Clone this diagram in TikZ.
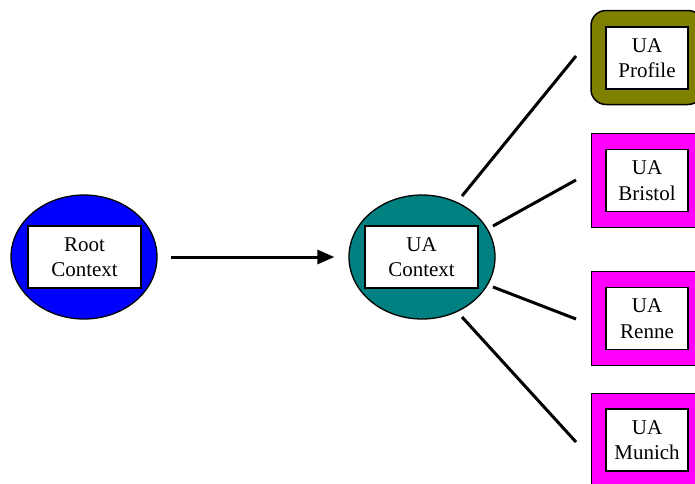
\documentclass[tikz,border=0pt]{standalone}
\usepackage{fontspec}
\setmainfont{Liberation Serif}
\usetikzlibrary{shapes.geometric}
\usetikzlibrary{arrows.meta}

\definecolor{ctxblue}{RGB}{0,0,255}
\definecolor{ctxteal}{RGB}{0,128,128}
\definecolor{uaolive}{RGB}{128,128,0}
\definecolor{uapink}{RGB}{255,0,255}

\tikzset{
  ctx/.style={ellipse, draw, line width=1.3pt, minimum width=146pt, minimum height=124pt},
  label/.style={rectangle, draw, fill=white, line width=1.5pt, inner sep=0pt, align=center,
    font=\fontsize{21}{25.5}\selectfont},
  ctxlabel/.style={label, minimum width=113pt, minimum height=62pt},
  ualabel/.style={label, minimum width=82pt, minimum height=62pt},
  uabox/.style={rectangle, draw, minimum width=112pt, minimum height=94pt},
  spoke/.style={line width=3pt},
}

\begin{document}
\begin{tikzpicture}[x=1pt, y=-1pt]
    \useasboundingbox (0,0) rectangle (695,483);
    \clip (0,0) rectangle (695,483);
    % contexts
    \node[ctx, fill=ctxblue] (root) at (84,257) {};
    \node[ctxlabel] at (84.5,257) {Root\\Context};
    \node[ctx, fill=ctxteal] (uactx) at (422,257) {};
    \node[ctxlabel] at (421.5,257) {UA\\Context};
    \draw[line width=3pt, -{Triangle[length=17pt, width=14pt]}, shorten <=13pt, shorten >=14pt] (root) -- (uactx);
    % user agents
    \node[uabox, fill=uaolive, rounded corners=15pt, line width=1.5pt] (profile) at (647,57.5) {};
    \node[ualabel] at (647,58) {UA\\Profile};
    \node[uabox, fill=uapink, line width=0.8pt] (bristol) at (647,180) {};
    \node[ualabel] at (647,180.5) {UA\\Bristol};
    \node[uabox, fill=uapink, line width=0.8pt] (renne) at (647,318.5) {};
    \node[ualabel] at (647,318.5) {UA\\Renne};
    \node[uabox, fill=uapink, line width=0.8pt] (munich) at (647,440) {};
    \node[ualabel] at (647,440) {UA\\Munich};
    % spokes
    \coordinate (s1) at (462,196);  \coordinate (e1) at (576,56);
    \coordinate (s2) at (493,226);  \coordinate (e2) at (576,180);
    \coordinate (s3) at (493,287);  \coordinate (e3) at (576,319);
    \coordinate (s4) at (462,317);  \coordinate (e4) at (576,442);
    \draw[spoke] (s1) -- (e1);
    \draw[spoke] (s2) -- (e2);
    \draw[spoke] (s3) -- (e3);
    \draw[spoke] (s4) -- (e4);
\end{tikzpicture}
\end{document}
